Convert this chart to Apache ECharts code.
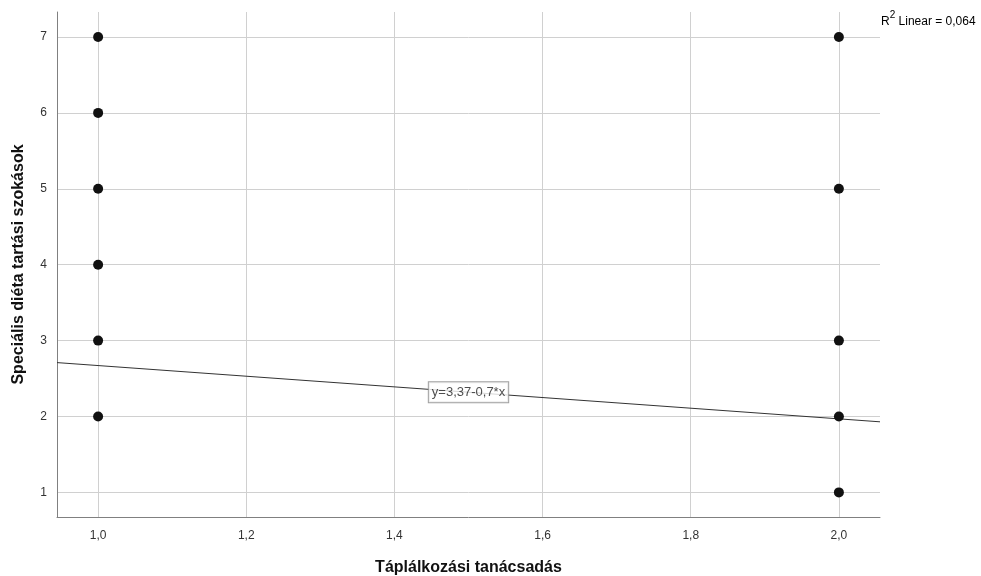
<!DOCTYPE html>
<html>
<head>
<meta charset="utf-8">
<script src="https://cdn.jsdelivr.net/npm/echarts@6/dist/echarts.min.js"></script>
<style>html,body{margin:0;padding:0;background:#fff}#c{width:981px;height:576px}</style>
</head>
<body>
<div id="c"></div>
<script>
// Data
const pointsX = [1, 1, 1, 1, 1, 1, 2, 2, 2, 2, 2];
const pointsY = [2, 3, 4, 5, 6, 7, 1, 2, 3, 5, 7];
const fitX = [0.9445, 2.0555];
const fitY = [2.71, 1.93];
const fitLabelPos = [1.5, 2.32];
const fitLabelText = 'y=3,37-0,7*x';
const r2Text = 'Linear = 0,064';
const xTicks = [1.0, 1.2, 1.4, 1.6, 1.8, 2.0];
const yTicks = [1, 2, 3, 4, 5, 6, 7];
const xTitle = 'Táplálkozási tanácsadás';
const yTitle = 'Speciális diéta tartási szokások';

const font = 'Arial, "Liberation Sans", sans-serif';
const chart = echarts.init(document.getElementById('c'));
const gridLines = xTicks.map(v => ({ xAxis: v })).concat(yTicks.map(v => ({ yAxis: v })));

chart.setOption({
  animation: false,
  backgroundColor: '#fff',
  grid: { left: 57, top: 12, right: 101, bottom: 59, containLabel: false, outerBoundsMode: 'none' },
  xAxis: {
    type: 'value', min: 0.9445, max: 2.0555,
    name: xTitle, nameLocation: 'middle', nameGap: 43,
    nameTextStyle: { fontFamily: font, fontSize: 16, fontWeight: 'bold', color: '#111' },
    axisLine: { show: true, onZero: false, lineStyle: { color: '#808080', width: 1 } },
    axisTick: { show: false },
    splitLine: { show: false },
    axisLabel: {
      customValues: xTicks, margin: 13,
      formatter: v => v.toFixed(1).replace('.', ','),
      fontFamily: font, fontSize: 12, color: '#333'
    }
  },
  yAxis: {
    type: 'value', min: 0.676, max: 7.329,
    name: yTitle, nameLocation: 'middle', nameGap: 30, nameRotate: 90,
    nameTextStyle: { fontFamily: font, fontSize: 16, fontWeight: 'bold', color: '#111' },
    axisLine: { show: true, onZero: false, lineStyle: { color: '#808080', width: 1 } },
    axisTick: { show: false },
    splitLine: { show: false },
    axisLabel: {
      customValues: yTicks, margin: 10,
      formatter: v => String(v),
      fontFamily: font, fontSize: 12, color: '#333'
    }
  },
  series: [
    {
      type: 'line', z: 1, silent: true,
      data: [],
      showSymbol: false, symbol: 'none',
      markLine: {
        z: 0,
        silent: true, symbol: 'none', animation: false,
        label: { show: false },
        lineStyle: { color: '#d0d0d0', width: 1, type: 'solid' },
        emphasis: { disabled: true },
        data: gridLines
      }
    },
    {
      type: 'line', z: 5, silent: true,
      data: fitX.map((x, i) => [x, fitY[i]]),
      showSymbol: false, symbol: 'none',
      lineStyle: { color: '#333', width: 1 }
    },
    {
      type: 'scatter', z: 10, silent: true,
      symbolSize: 10,
      itemStyle: { color: '#111', opacity: 1 },
      data: pointsX.map((x, i) => [x, pointsY[i]])
    },
    {
      type: 'scatter', z: 12, silent: true,
      symbolSize: 0,
      data: [fitLabelPos],
      label: {
        show: true, position: 'inside', formatter: fitLabelText,
        fontFamily: font, fontSize: 13, color: '#222',
        backgroundColor: '#fff', borderColor: '#888', borderWidth: 1,
        padding: [4, 3, 3, 3]
      }
    }
  ],
  graphic: [
    {
      type: 'text', left: 881, top: 10,
      style: {
        text: '{n|R}{s|2}{n| ' + r2Text + '}',
        rich: {
          n: { fontFamily: font, fontSize: 12, color: '#222', verticalAlign: 'bottom', lineHeight: 18 },
          s: { fontFamily: font, fontSize: 10, color: '#222', verticalAlign: 'top', lineHeight: 12 }
        }
      }
    }
  ]
});
</script>
</body>
</html>
